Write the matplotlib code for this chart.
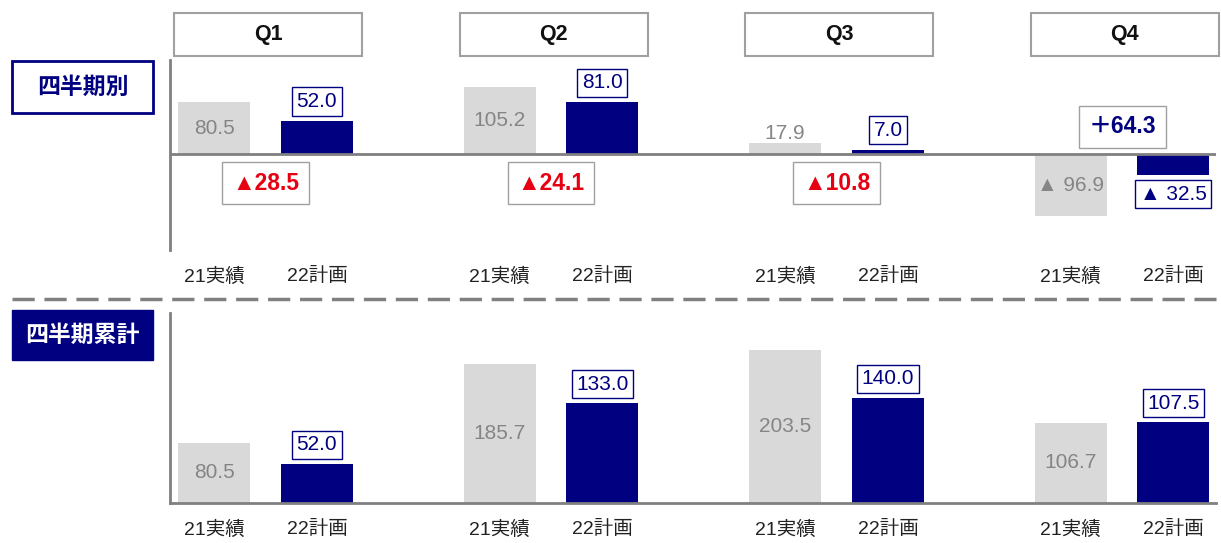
import matplotlib
matplotlib.use('Agg')
import matplotlib.pyplot as plt
from matplotlib.patches import Rectangle
from matplotlib.lines import Line2D
import matplotlib.transforms as mtransforms

# ==================== データ ====================
quarters = ['Q1', 'Q2', 'Q3', 'Q4']
bar_labels = ['21実績', '22計画']

# 四半期別
q_actual21 = [80.5, 105.2, 17.9, -96.9]
q_plan22 = [52.0, 81.0, 7.0, -32.5]
q_diff = [-28.5, -24.1, -10.8, 64.3]

# 四半期累計
cum_actual21 = [80.5, 185.7, 203.5, 106.7]
cum_plan22 = [52.0, 133.0, 140.0, 107.5]

# ==================== スタイル ====================
plt.rcParams['font.family'] = ['Liberation Sans', 'Noto Sans CJK JP', 'DejaVu Sans']
plt.rcParams['lines.scale_dashes'] = False

GRAY_BAR = '#d9d9d9'
NAVY = '#000080'
RED = '#e60012'
GRAY_TXT = '#858585'
AXIS_GRAY = '#808080'
BOX_GRAY = '#a0a0a0'

W, H = 1221, 543
fig = plt.figure(figsize=(W / 100, H / 100), dpi=100)


def fx(px):
    return px / W


def fy(py):
    return 1 - py / H


OFF = 0.18
BW = 0.252
XL = (-0.3345, 3.329)


def fmt(v):
    return f'▲ {abs(v):.1f}' if v < 0 else f'{v:.1f}'


def setup_axes(ax, ylim):
    ax.set_xlim(*XL)
    ax.set_ylim(*ylim)
    for s in ['top', 'right', 'bottom']:
        ax.spines[s].set_visible(False)
    ax.spines['left'].set_color(AXIS_GRAY)
    ax.spines['left'].set_linewidth(2)
    ax.set_yticks([])
    ticks, labels = [], []
    for i in range(len(quarters)):
        ticks += [i - OFF, i + OFF]
        labels += bar_labels
    ax.set_xticks(ticks)
    ax.set_xticklabels(labels, fontsize=14, color='#222222')
    ax.tick_params(axis='x', length=0, pad=12.5)


def navy_box(ax, x, y, txt, up=True):
    ax.annotate(txt, xy=(x, y), xytext=(0, 7 if up else -7), textcoords='offset points',
                ha='center', va='bottom' if up else 'top', fontsize=15, color=NAVY,
                bbox=dict(boxstyle='square,pad=0.22', fc='white', ec=NAVY, lw=1))


# ==================== 上段：四半期別 ====================
ax1 = fig.add_axes([fx(170), fy(250), fx(1216) - fx(170), 190 / H])
setup_axes(ax1, (-150, 146.9))
ax1.axhline(0, color=AXIS_GRAY, lw=2, zorder=3)

xs = range(len(quarters))
ax1.bar([i - OFF for i in xs], q_actual21, width=BW, color=GRAY_BAR, zorder=2)
ax1.bar([i + OFF for i in xs], q_plan22, width=BW, color=NAVY, zorder=2)

for i in xs:
    a, p, d = q_actual21[i], q_plan22[i], q_diff[i]
    if abs(a) > 30:
        ax1.text(i - OFF, a / 2, fmt(a), ha='center', va='center', fontsize=15, color=GRAY_TXT, zorder=4)
    else:
        ax1.text(i - OFF, a, fmt(a), ha='center', va='bottom', fontsize=15, color=GRAY_TXT, zorder=4)
    navy_box(ax1, i + OFF, p, fmt(p), up=p >= 0)
    if d < 0:
        ax1.annotate(f'▲{abs(d):.1f}', xy=(i, 0), xytext=(0, -21), textcoords='offset points',
                     ha='center', va='center', fontsize=16.5, fontweight='bold', color=RED,
                     bbox=dict(boxstyle='square,pad=0.42', fc='white', ec=BOX_GRAY, lw=1))
    else:
        ax1.annotate(f'＋{d:.1f}', xy=(i, 0), xytext=(0, 19.5), textcoords='offset points',
                     ha='center', va='center', fontsize=16.5, fontweight='bold', color=NAVY,
                     bbox=dict(boxstyle='square,pad=0.42', fc='white', ec=BOX_GRAY, lw=1))

# Q見出し
trans = mtransforms.blended_transform_factory(ax1.transData, ax1.transAxes)
for i, q in enumerate(quarters):
    ax1.add_patch(Rectangle((i - 0.32, 1.021), 0.658, 0.226, transform=trans, clip_on=False,
                            fc='white', ec=BOX_GRAY, lw=1.5))
    ax1.text(i + 0.009, 1.134, q, transform=trans, ha='center', va='center',
             fontsize=15.5, fontweight='bold', color='#111111')

# ==================== 下段：四半期累計 ====================
ax2 = fig.add_axes([fx(170), fy(503), fx(1216) - fx(170), 190 / H])
setup_axes(ax2, (0, 253.3))
ax2.spines['bottom'].set_visible(True)
ax2.spines['bottom'].set_color(AXIS_GRAY)
ax2.spines['bottom'].set_linewidth(2)

ax2.bar([i - OFF for i in xs], cum_actual21, width=BW, color=GRAY_BAR, zorder=2)
ax2.bar([i + OFF for i in xs], cum_plan22, width=BW, color=NAVY, zorder=2)
for i in xs:
    a, p = cum_actual21[i], cum_plan22[i]
    ax2.text(i - OFF, a / 2, fmt(a), ha='center', va='center', fontsize=15, color=GRAY_TXT)
    navy_box(ax2, i + OFF, p, fmt(p), up=True)

# ==================== 左側ラベル・区切り線 ====================
fig.patches.append(Rectangle((fx(12), fy(113)), fx(153) - fx(12), 52 / H, transform=fig.transFigure,
                             fc='white', ec=NAVY, lw=2))
fig.text(fx(82.5), fy(87), '四半期別', ha='center', va='center', fontsize=16.5,
         fontweight='bold', color=NAVY)
fig.patches.append(Rectangle((fx(12), fy(360)), fx(153) - fx(12), 50 / H, transform=fig.transFigure,
                             fc=NAVY, ec=NAVY, lw=1))
fig.text(fx(82.5), fy(335), '四半期累計', ha='center', va='center', fontsize=16.5,
         fontweight='bold', color='white')

fig.lines.append(Line2D([fx(12), fx(1216)], [fy(299), fy(299)], transform=fig.transFigure,
                        color=AXIS_GRAY, lw=2.5, linestyle=(0, (16, 7))))

fig.savefig('out.png', dpi=100)
